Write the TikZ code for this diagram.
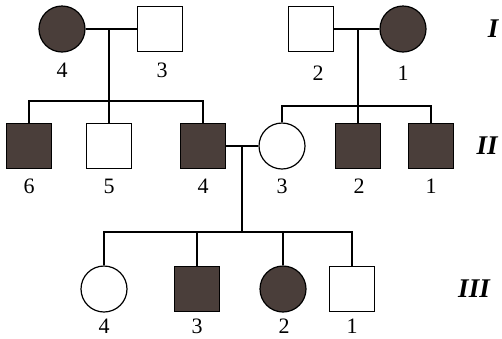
\documentclass[tikz,border=0pt]{standalone}
\usepackage{fontspec}
\setmainfont{Liberation Serif}
\definecolor{affc}{RGB}{74,62,58}
\begin{document}
\begin{tikzpicture}[x=1pt,y=1pt,line width=1.2pt,
  sq/.style={draw,rectangle,minimum size=45pt,inner sep=0pt},
  ci/.style={draw,circle,minimum size=46pt,inner sep=0pt},
  aff/.style={fill=affc},
  lbl/.style={font=\fontsize{22}{22}\selectfont,inner sep=0pt},
  gen/.style={font=\fontsize{27}{27}\selectfont\bfseries\itshape,inner sep=0pt}]
\useasboundingbox (0,0) rectangle (502,-338);
% Generation I
\node[ci,aff] (I4) at (62,-29) {};
\node[sq] (I3) at (160,-29) {};
\node[sq] (I2) at (311,-29) {};
\node[ci,aff] (I1) at (403,-29) {};
% Generation II
\node[sq,aff] (II6) at (29,-146) {};
\node[sq] (II5) at (109,-146) {};
\node[sq,aff] (II4) at (203,-146) {};
\node[ci] (II3) at (282,-146) {};
\node[sq,aff] (II2) at (358,-146) {};
\node[sq,aff] (II1) at (431,-146) {};
% Generation III
\node[ci] (III4) at (104,-289) {};
\node[sq,aff] (III3) at (197,-289) {};
\node[ci,aff] (III2) at (283,-289) {};
\node[sq] (III1) at (352,-289) {};
% labels
\node[lbl] (lI4) at (62,-70) {4};
\node[lbl] (lI3) at (162,-70) {3};
\node[lbl] (lI2) at (318,-73) {2};
\node[lbl] (lI1) at (403,-73) {1};
\node[lbl] (lII6) at (29,-186) {6};
\node[lbl] (lII5) at (109,-186) {5};
\node[lbl] (lII4) at (203,-186) {4};
\node[lbl] (lII3) at (282,-186) {3};
\node[lbl] (lII2) at (359,-186) {2};
\node[lbl] (lII1) at (431,-186) {1};
\node[lbl] (lIII4) at (104,-326) {4};
\node[lbl] (lIII3) at (197,-326) {3};
\node[lbl] (lIII2) at (284,-326) {2};
\node[lbl] (lIII1) at (352,-326) {1};
\node[gen] (gI) at (493,-29) {I};
\node[gen] (gII) at (487,-146) {II};
\node[gen] (gIII) at (474,-289) {III};
% family 1
\coordinate (m1) at (109,-29);
\coordinate (s1) at (109,-101);
\draw (I4) -- (I3);
\draw (m1) -- (s1);
\draw (II6.north) -- (II6.north |- s1) -- (II4.north |- s1) -- (II4.north);
\draw (II5.north) -- (II5.north |- s1);
% family 2
\coordinate (m2) at (358,-29);
\coordinate (s2) at (358,-106);
\draw (I2) -- (I1);
\draw (m2) -- (s2);
\draw (II3.north) -- (II3.north |- s2) -- (II1.north |- s2) -- (II1.north);
\draw (II2.north) -- (II2.north |- s2);
% family 3
\coordinate (m3) at (242,-146);
\coordinate (s3) at (242,-232);
\draw (II4) -- (II3);
\draw (m3) -- (s3);
\draw (III4.north) -- (III4.north |- s3) -- (III1.north |- s3) -- (III1.north);
\draw (III3.north) -- (III3.north |- s3);
\draw (III2.north) -- (III2.north |- s3);
\end{tikzpicture}
\end{document}
